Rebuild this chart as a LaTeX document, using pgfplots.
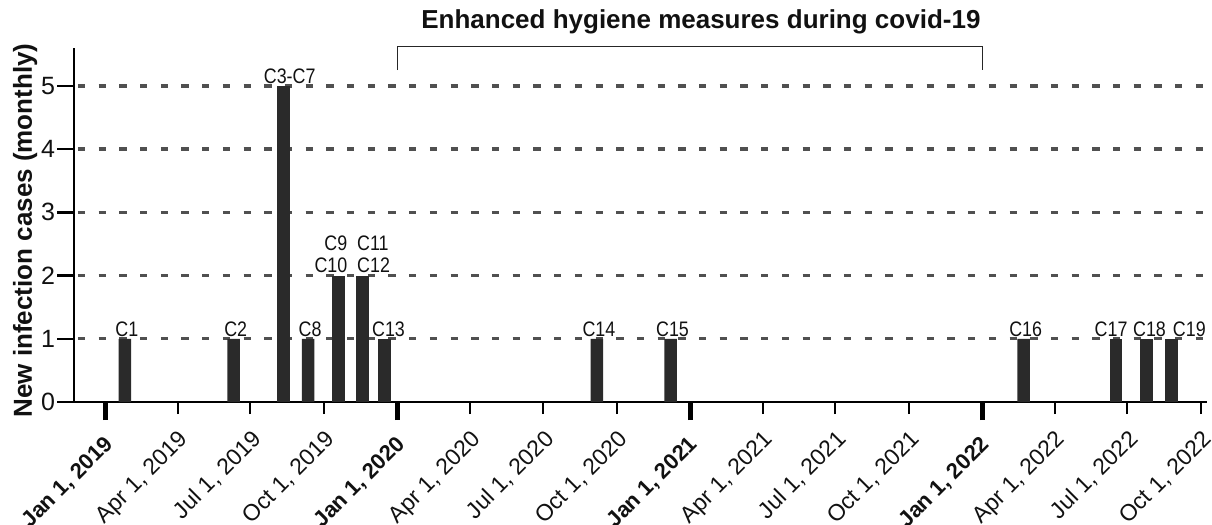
\documentclass[border=0pt]{standalone}
\usepackage{fontspec}
\setmainfont{Liberation Sans}
\newfontfamily\narrowfont{Liberation Sans}[FakeStretch=0.85]
\usepackage{pgfplots}
\pgfplotsset{compat=1.18}
\definecolor{barc}{HTML}{2A2A2A}
\definecolor{gridc}{HTML}{505050}
\definecolor{txt}{HTML}{111111}
\pgfplotsset{
  cbar/.style={ybar, bar width=6.25pt, bar shift=0pt, fill=barc, draw=none,
    nodes near coords, point meta=explicit symbolic,
    nodes near coords style={font=\narrowfont\fontsize{10.5}{11}\selectfont, anchor=south, inner sep=1pt, text=txt, xshift=#1}},
  cbar/.default=1pt,
}
\begin{document}
\begin{tikzpicture}
\path[use as bounding box] (-37pt,-61.5pt) rectangle (569pt,201pt);
\begin{axis}[
  at={(0,0)}, anchor=south west,
  scale only axis, width=566.5pt, height=177pt,
  xmin=-39.6, xmax=1376.6, ymin=0, ymax=5.6,
  clip=false,
  axis lines=left,
  axis line style={-, line width=1.35pt, black},
  /pgf/number format/assume math mode=true,
  tick align=outside,
  major tick length=6pt,
  tick style={line width=1pt, black},
  ytick={0,1,2,3,4,5},
  ytick style={/pgfplots/major tick length=8.5pt, line width=1.2pt},
  extra y ticks={1,2,3,4,5},
  extra y tick labels={},
  extra y tick style={grid=major},
  grid style={line width=1.7pt, color=gridc, dash pattern=on 3.65pt off 6.7pt, dash phase=8.35pt},
  xtick={90,181,273,456,547,639,821,912,1004,1186,1277,1369},
  xticklabels={{Apr 1, 2019},{Jul 1, 2019},{Oct 1, 2019},{Apr 1, 2020},{Jul 1, 2020},{Oct 1, 2020},{Apr 1, 2021},{Jul 1, 2021},{Oct 1, 2021},{Apr 1, 2022},{Jul 1, 2022},{Oct 1, 2022}},
  extra x ticks={0,365,731,1096},
  extra x tick labels={{Jan 1, 2019},{Jan 1, 2020},{Jan 1, 2021},{Jan 1, 2022}},
  extra x tick style={major tick length=9pt, tick style={line width=2.5pt, black},
    xticklabel style={font=\bfseries\fontsize{11}{11}\selectfont, xshift=-1pt, yshift=1pt}},
  xticklabel style={rotate=45, anchor=north east, inner sep=0pt, xshift=-5pt, yshift=-5pt, font=\fontsize{11.5}{11.5}\selectfont, text=txt},
  yticklabel style={font=\fontsize{12.5}{12.5}\selectfont, text=txt},
  ylabel={\bfseries New infection cases (monthly)},
  ylabel style={at={(axis description cs:-0.0432,0.4845)}, anchor=center, font=\fontsize{13}{13}\selectfont, text=txt},
]
\addplot[cbar] coordinates {
(24,1) [C1]
(160,1) [C2]
(253,1) [C8]
(614,1) [C14]
(706,1) [C15]
(1147.5,1) [C16]
};
\addplot[cbar=3pt] coordinates {(222.5,5) [C3-C7]};
\addplot[cbar=2pt] coordinates {(348.5,1) [C13]};
\addplot[cbar=5.6pt, nodes near coords style={anchor=south east, align=right}] coordinates {(291,2) [{C9\\C10}]};
\addplot[cbar=-3.85pt, nodes near coords style={anchor=south west, align=left}] coordinates {(321,2) [{C11\\C12}]};
\addplot[cbar=-2.5pt] coordinates {(1263,1) [C17]};
\addplot[cbar=1.5pt] coordinates {(1301,1) [C18]};
\addplot[cbar=9pt] coordinates {(1332,1) [C19]};
\draw[line width=0.75pt, black!85] (axis cs:365,5.25) |- (axis cs:1096,5.62) -- (axis cs:1096,5.25);
\node[font=\bfseries\fontsize{13}{13}\selectfont, anchor=base, text=txt] at (axis cs:744,5.91) {Enhanced hygiene measures during covid-19};
\end{axis}
\end{tikzpicture}
\end{document}
